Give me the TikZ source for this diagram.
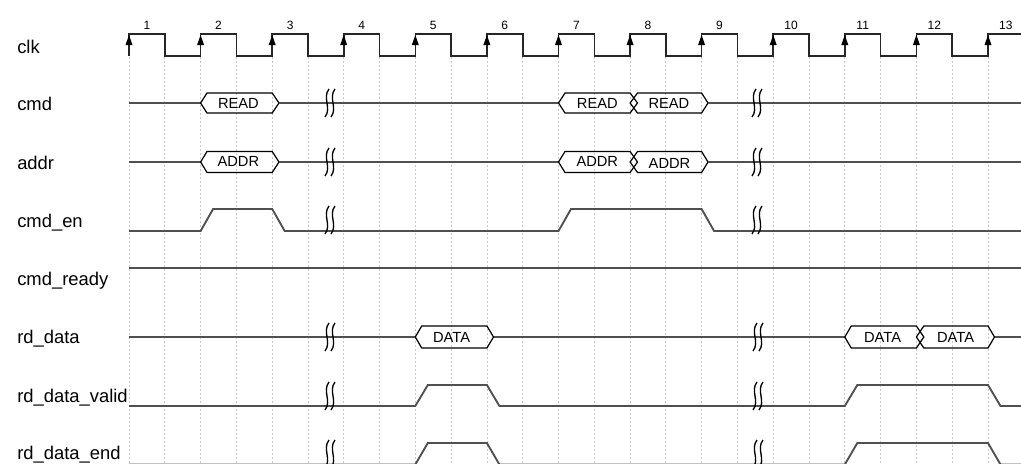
\documentclass[tikz,border=0pt]{standalone}
\usepackage{fontspec}
\setmainfont{Liberation Sans}

\definecolor{wavegray}{RGB}{80,80,80}
\definecolor{gridgray}{RGB}{200,200,200}

\tikzset{
  clkwave/.style={line width=1.2pt, color=black!85},
  sigwave/.style={line width=1.4pt, color=wavegray},
  busbox/.style={line width=0.9pt, color=black},
  gridmark/.style={line width=0.6pt, color=gridgray, dash pattern=on 1.5pt off 1.5pt},
  breakmark/.style={line width=1pt, color=black},
  edgemark/.style={fill=black},
  signame/.style={anchor=base west, inner sep=0pt, font=\fontsize{13.8}{16}\selectfont},
  busname/.style={inner sep=0pt, font=\fontsize{11}{13}\selectfont},
  cyclenum/.style={anchor=base, inner sep=0pt, font=\fontsize{9}{11}\selectfont},
}

\begin{document}
\begin{tikzpicture}[x=0.75pt,y=0.75pt,yscale=-1,xscale=1]
\useasboundingbox (0,0) rectangle (1021,464);

%Grid: half period marks
\foreach \gx in {0,...,24} \draw[gridmark] (129+\gx*35.79,57) -- (129+\gx*35.79,464);

% Text Node
\node[signame] (lblclk) at (17,53) {clk};
% Text Node
\node[signame] (lblcmd) at (17,110) {cmd};
% Text Node
\node[signame] (lbladdr) at (17,169) {addr};
% Text Node
\node[signame] (lblcmden) at (17,227) {cmd\_en};
% Text Node
\node[signame] (lblcmdready) at (17,285) {cmd\_ready};
% Text Node
\node[signame] (lblrddata) at (17,343) {rd\_data};
% Text Node
\node[signame] (lblrdvalid) at (17,402) {rd\_data\_valid};
% Text Node
\node[signame] (lblrdend) at (17,459) {rd\_data\_end};

%Wave: clk
\draw[clkwave] (129,56) -- (129,34) -- (164.8,34) -- (164.8,56) -- (200.6,56) -- (200.6,34) -- (236.4,34) -- (236.4,56) -- (272.2,56) -- (272.2,34) -- (308,34) -- (308,56) -- (343.7,56) -- (343.7,34) -- (379.5,34) -- (379.5,56) -- (415.3,56) -- (415.3,34) -- (451.1,34) -- (451.1,56) -- (486.9,56) -- (486.9,34) -- (522.7,34) -- (522.7,56) -- (558.5,56) -- (558.5,34) -- (594.3,34) -- (594.3,56) -- (630.1,56) -- (630.1,34) -- (665.9,34) -- (665.9,56) -- (701.6,56) -- (701.6,34) -- (737.4,34) -- (737.4,56) -- (773.2,56) -- (773.2,34) -- (809,34) -- (809,56) -- (844.8,56) -- (844.8,34) -- (880.6,34) -- (880.6,56) -- (916.4,56) -- (916.4,34) -- (952.2,34) -- (952.2,56) -- (988,56) -- (988,34) -- (1021,34);
%Rising edges and cycle numbers
\foreach \n/\ex in {1/129,2/200.6,3/272.2,4/343.7,5/415.3,6/486.9,7/558.5,8/630.1,9/701.6,10/773.2,11/844.8,12/916.4,13/988}{
  \fill[edgemark] (\ex,35) -- (\ex-3.5,45) -- (\ex+3.5,45) -- cycle;
  \node[cyclenum] (cyc\n) at (\ex+17.9,29) {\n};
}

%Wave: cmd
\draw[sigwave] (129,103) -- (200.6,103);
\draw[busbox] (200.6,103) -- (207,93) -- (272.2,93) -- (279,103) -- (272.2,113) -- (207,113) -- cycle;
\node[busname] (cmdreada) at (238.4,103.5) {READ};
\draw[sigwave] (279,103) -- (558.5,103);
\draw[busbox] (558.5,103) -- (565,93) -- (630.1,93) -- (637.5,103) -- (630.1,113) -- (565,113) -- cycle;
\node[busname] (cmdreadb) at (597.3,103.5) {READ};
\draw[busbox] (630.1,103) -- (637.5,93) -- (701.6,93) -- (708,103) -- (701.6,113) -- (637.5,113) -- cycle;
\node[busname] (cmdreadc) at (668.9,103.5) {READ};
\draw[sigwave] (708,103) -- (1021,103);

%Wave: addr
\draw[sigwave] (129,162) -- (200.6,162);
\draw[busbox] (200.6,162) -- (207,151.5) -- (272.2,151.5) -- (279,162) -- (272.2,172.5) -- (207,172.5) -- cycle;
\node[busname] (addra) at (238.4,161.5) {ADDR};
\draw[sigwave] (279,162) -- (558.5,162);
\draw[busbox] (558.5,162) -- (565,151.5) -- (630.1,151.5) -- (637.5,162) -- (630.1,172.5) -- (565,172.5) -- cycle;
\node[busname] (addrb) at (597.3,161.5) {ADDR};
\draw[busbox] (630.1,162) -- (637.5,151.5) -- (701.6,151.5) -- (708,162) -- (701.6,172.5) -- (637.5,172.5) -- cycle;
\node[busname] (addrc) at (669.5,163) {ADDR};
\draw[sigwave] (708,162) -- (1021,162);

%Wave: cmd_en
\draw[sigwave] (129,231) -- (200.6,231) -- (213.1,209) -- (272.2,209) -- (284.7,231) -- (558.5,231) -- (571,209) -- (701.6,209) -- (714.1,231) -- (1021,231);

%Wave: cmd_ready
\draw[sigwave] (129,268) -- (1021,268);

%Wave: rd_data
\draw[sigwave] (129,337) -- (415.3,337);
\draw[busbox] (415.3,337) -- (421.7,326) -- (486.9,326) -- (493.5,337) -- (486.9,348) -- (421.7,348) -- cycle;
\node[busname] (dataa) at (451.6,337) {DATA};
\draw[sigwave] (493.5,337) -- (844.8,337);
\draw[busbox] (844.8,337) -- (851.2,326) -- (916.4,326) -- (923.8,337) -- (916.4,348) -- (851.2,348) -- cycle;
\node[busname] (datab) at (882.6,337) {DATA};
\draw[busbox] (916.4,337) -- (923.8,326) -- (988,326) -- (994.5,337) -- (988,348) -- (923.8,348) -- cycle;
\node[busname] (datac) at (955.6,337) {DATA};
\draw[sigwave] (994.5,337) -- (1021,337);

%Wave: rd_data_valid
\draw[sigwave] (129,406) -- (415.3,406) -- (427.8,385) -- (486.9,385) -- (499.4,406) -- (844.8,406) -- (857.3,385) -- (988,385) -- (1000.5,406) -- (1021,406);

%Wave: rd_data_end
\draw[sigwave] (129,464.5) -- (415.3,464.5) -- (427.8,443) -- (486.9,443) -- (499.4,464.5) -- (844.8,464.5) -- (857.3,443) -- (988,443) -- (1000.5,464.5) -- (1021,464.5);

%Time breaks
\foreach \bx/\by in {327/103,333/103,327/162,333/162,327/220,333/220,327/337,333/337,327/396,333/396,327/454,333/454,754/103,760/103,754/162,760/162,754/220,760/220,755/337,761/337,755/396,761/396,755/454,761/454}
  \draw[breakmark] (\bx+2,\by-14) .. controls (\bx-5,\by-5) and (\bx+5,\by+5) .. (\bx-2,\by+14);

\end{tikzpicture}
\end{document}
